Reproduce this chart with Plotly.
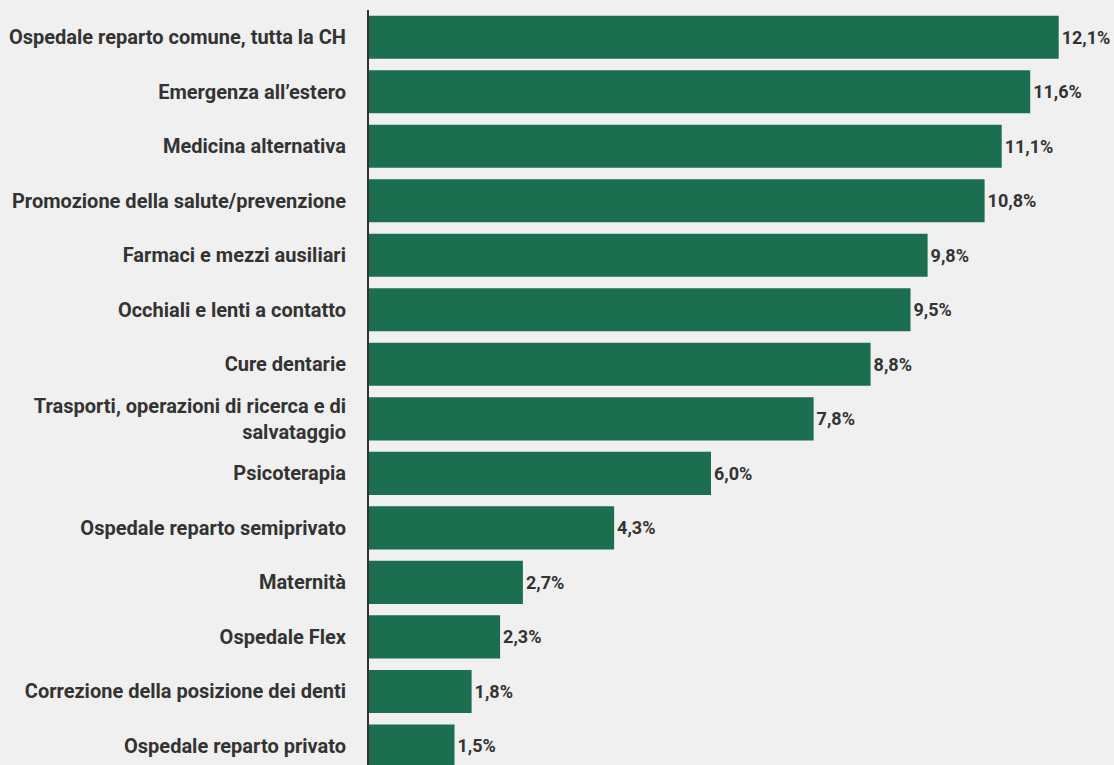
import plotly.graph_objects as go

categories = [
    "Ospedale reparto comune, tutta la CH",
    "Emergenza all’estero",
    "Medicina alternativa",
    "Promozione della salute/prevenzione",
    "Farmaci e mezzi ausiliari",
    "Occhiali e lenti a contatto",
    "Cure dentarie",
    "Trasporti, operazioni di ricerca e di<br>salvataggio",
    "Psicoterapia",
    "Ospedale reparto semiprivato",
    "Maternità",
    "Ospedale Flex",
    "Correzione della posizione dei denti",
    "Ospedale reparto privato",
]
values = [12.1, 11.6, 11.1, 10.8, 9.8, 9.5, 8.8, 7.8, 6.0, 4.3, 2.7, 2.3, 1.8, 1.5]
labels = [f"{v:.1f}%".replace(".", ",") for v in values]

fig = go.Figure(go.Bar(
    y=categories, x=values, orientation="h",
    marker=dict(color="#1b6e4f", line=dict(width=0)),
    text=labels, textposition="outside", cliponaxis=False,
    textfont=dict(family="Roboto", size=18, color="#333333", weight="bold"),
    width=0.79,
))

fig.update_layout(
    width=1114, height=765,
    paper_bgcolor="#f0f0f0", plot_bgcolor="#f0f0f0",
    margin=dict(l=369, r=0, t=10, b=0),
    showlegend=False,
    font=dict(family="Roboto", color="#333333"),
)
fig.update_xaxes(range=[0, 13.07], visible=False, showgrid=False, zeroline=False)
fig.update_yaxes(
    range=[13.35, -0.5], showgrid=False, zeroline=False,
    showline=True, linecolor="#333333", linewidth=2,
    tickfont=dict(family="Roboto", size=20, color="#333333", weight="bold"),
    ticks="", ticklabelstandoff=17,
)
fig.write_html(
    "out.html",
    config={"displayModeBar": False},
    post_script="document.body.style.margin='0';document.body.style.background='#f0f0f0';",
)
